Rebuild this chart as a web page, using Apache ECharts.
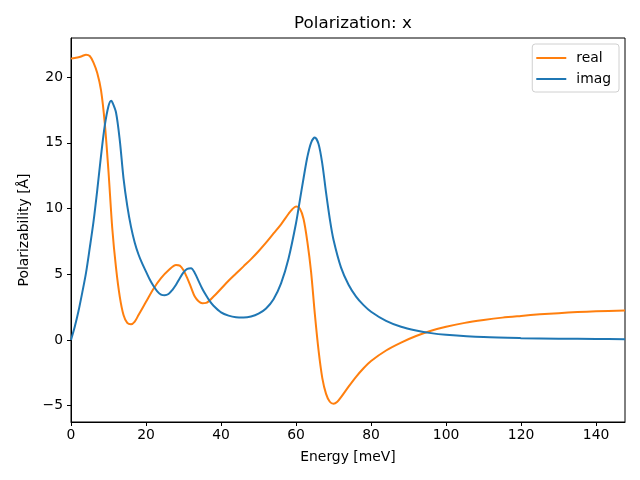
<!DOCTYPE html>
<html>
<head>
<meta charset="utf-8">
<script src="https://cdn.jsdelivr.net/npm/echarts@6/dist/echarts.min.js"></script>
<style>html,body{margin:0;padding:0;background:#fff}#c{width:640px;height:480px}</style>
</head>
<body>
<div id="c"></div>
<script>
const realE = [0,1,2,3,4,5,6,7,8,9,10,11,12,13,14,15,16,17,18,20,22,24,26,28,29,30,31,32,33,34,35,36,38,40,42,44,46,48,50,52,54,56,58,59,60,61,62,63,64,65,66,67,68,69,70,71,72,74,76,78,80,84,88,92,96,100,105,110,115,120,125,130,135,140,147.7];
const realV = [21.4,21.45,21.5,21.6,21.7,21.6,21.1,20.3,19.0,16.5,12.8,8.5,5.5,3.3,1.9,1.3,1.2,1.4,1.9,2.9,3.9,4.7,5.3,5.7,5.65,5.3,4.7,4.0,3.3,2.95,2.8,2.82,3.3,3.9,4.5,5.05,5.6,6.15,6.75,7.4,8.1,8.8,9.6,9.95,10.15,10.0,9.2,7.5,5.2,2.0,-0.8,-2.9,-4.1,-4.7,-4.85,-4.7,-4.35,-3.55,-2.8,-2.15,-1.6,-0.8,-0.2,0.3,0.7,1.0,1.3,1.52,1.7,1.83,1.95,2.04,2.12,2.18,2.25];
const imagE = [0,1,2,3,4,5,6,7,8,9,10,10.7,11,12,13,14,15,16,17,18,19,20,21,22,23,24,25,26,27,28,29,30,31,32,33,34,35,36,37,38,40,42,44,46,48,50,52,54,56,58,60,61,62,63,64,65,66,67,68,69,70,72,74,76,78,80,84,88,92,96,100,110,120,130,140,147.7];
const imagV = [0,1.0,2.2,3.6,5.1,7.0,9.0,11.4,14.0,16.3,17.8,18.2,18.1,17.3,15.2,12.3,10.2,8.6,7.4,6.5,5.8,5.2,4.6,4.1,3.7,3.45,3.4,3.5,3.8,4.2,4.7,5.15,5.4,5.45,5.1,4.5,3.9,3.4,2.95,2.6,2.1,1.85,1.72,1.7,1.78,2.0,2.4,3.1,4.3,6.2,8.9,10.6,12.3,13.9,15.0,15.4,14.9,13.4,11.2,9.2,7.6,5.5,4.2,3.3,2.65,2.15,1.45,1.0,0.72,0.52,0.4,0.22,0.14,0.1,0.07,0.06];
const xTicks = [0,20,40,60,80,100,120,140];
const yTicks = [-5,0,5,10,15,20];
const seriesNames = ['real','imag'];

const pair = (xs, ys) => xs.map((x, i) => [x, ys[i]]);
const fmt = v => String(v).replace('-', '\u2212');
const font = 'DejaVu Sans';
const chart = echarts.init(document.getElementById('c'), null, {renderer: 'canvas'});
chart.setOption({
  animation: false,
  backgroundColor: '#ffffff',
  title: {
    text: 'Polarization: x', left: 348, top: 10, textAlign: 'center',
    textStyle: {fontFamily: font, fontSize: 16.7, fontWeight: 'normal', color: '#000'}
  },
  legend: {
    data: seriesNames, orient: 'vertical', right: 21, top: 44,
    icon: 'rect', itemWidth: 30, itemHeight: 2, itemGap: 7,
    padding: [7, 8, 6, 4],
    backgroundColor: 'rgba(255,255,255,0.8)', borderColor: '#d0d0d0', borderWidth: 1, borderRadius: 3,
    textStyle: {fontFamily: font, fontSize: 13.9, color: '#000', padding: [0, 0, 0, 5]}
  },
  grid: {left: 71, right: 15, top: 38, bottom: 58, show: true, borderColor: '#000', borderWidth: 1, backgroundColor: 'transparent'},
  xAxis: {
    type: 'value', min: 0, max: 147.7,
    name: 'Energy [meV]', nameLocation: 'middle', nameGap: 28,
    nameTextStyle: {fontFamily: font, fontSize: 13.9, color: '#000'},
    axisLine: {show: true, onZero: false, lineStyle: {color: '#000', width: 1}},
    axisTick: {show: true, length: 4, customValues: xTicks, lineStyle: {color: '#000'}},
    axisLabel: {customValues: xTicks, margin: 6, fontFamily: font, fontSize: 13.9, color: '#000', formatter: fmt},
    splitLine: {show: false}
  },
  yAxis: {
    type: 'value', min: -6.24, max: 22.97,
    name: 'Polarizability [Å]', nameLocation: 'middle', nameGap: 39,
    nameTextStyle: {fontFamily: font, fontSize: 13.9, color: '#000'},
    axisLine: {show: true, onZero: false, lineStyle: {color: '#000', width: 1}},
    axisTick: {show: true, length: 4, customValues: yTicks, lineStyle: {color: '#000'}},
    axisLabel: {customValues: yTicks, margin: 8, fontFamily: font, fontSize: 13.9, color: '#000', formatter: fmt},
    splitLine: {show: false}
  },
  series: [
    {name: seriesNames[0], type: 'line', data: pair(realE, realV), symbol: 'none', smooth: 0.3,
     lineStyle: {color: '#ff7f0e', width: 2}, itemStyle: {color: '#ff7f0e'}},
    {name: seriesNames[1], type: 'line', data: pair(imagE, imagV), symbol: 'none', smooth: 0.3,
     lineStyle: {color: '#1f77b4', width: 2}, itemStyle: {color: '#1f77b4'}}
  ]
});
</script>
</body>
</html>
